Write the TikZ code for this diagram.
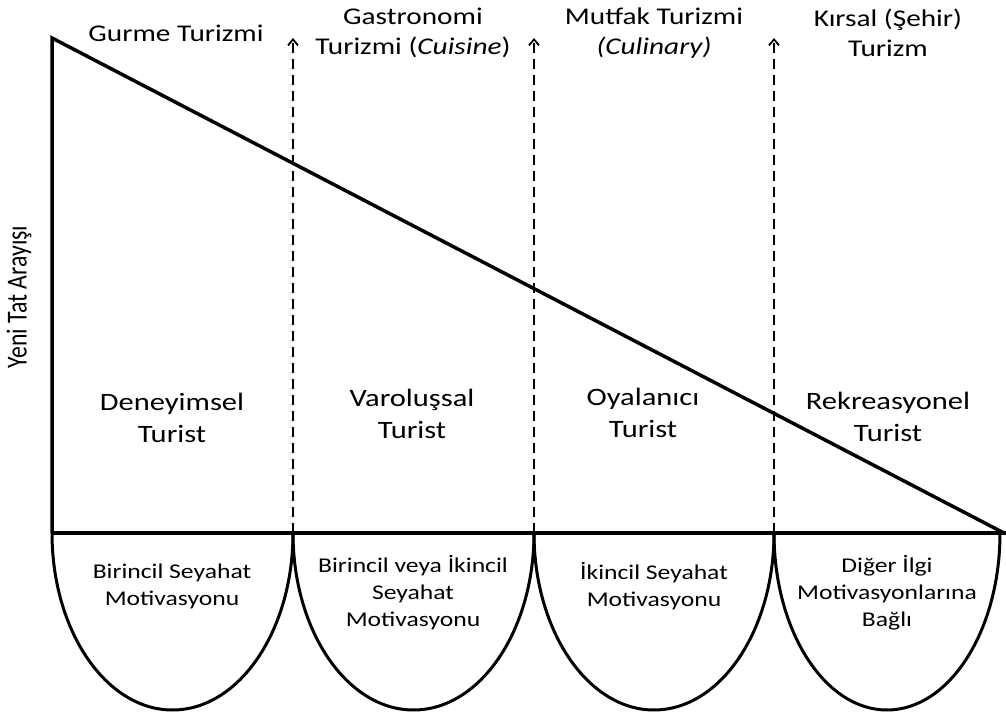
\documentclass[tikz,border=0pt]{standalone}
\usepackage{fontspec}
\setmainfont[FakeStretch=1.22]{Carlito}
\newfontfamily\axisfont[FakeStretch=0.82]{Carlito}
\usetikzlibrary{arrows.meta}
\tikzset{
  edge/.style={line width=3.5pt},
  divider/.style={line width=1.8pt, dash pattern=on 10pt off 6pt,
                  -{Straight Barb[length=6pt, width=10pt]}},
  bowl/.style={line width=3pt},
  toplabel/.style={font=\fontsize{24}{30}\selectfont, align=center, inner sep=0pt},
  typelabel/.style={font=\fontsize{25}{32}\selectfont, align=center, inner sep=0pt},
  bowllabel/.style={font=\fontsize{21}{27}\selectfont, align=center, inner sep=0pt},
  axislabel/.style={font=\axisfont\fontsize{29}{34}\selectfont, rotate=90, inner sep=0pt},
}

\begin{document}
\begin{tikzpicture}[x=1pt, y=1pt]
    \useasboundingbox (0,0) rectangle (1006,715);
    % triangle
    \coordinate (apex) at (52,677);
    \coordinate (corner) at (52,182);
    \coordinate (tip) at (1004,182);
    \coordinate (baseend) at (1006,182);
    \draw[edge] (corner) -- (apex) -- (tip);
    \draw[edge] (corner) -- (baseend);
    % dashed dividers
    \coordinate (d1b) at (293,182);
    \coordinate (d1t) at (293,677);
    \coordinate (d2b) at (534,182);
    \coordinate (d2t) at (534,677);
    \coordinate (d3b) at (774,182);
    \coordinate (d3t) at (774,677);
    \draw[divider] (d1b) -- (d1t);
    \draw[divider] (d2b) -- (d2t);
    \draw[divider] (d3b) -- (d3t);
    % bowls under the base line
    \draw[bowl] (corner) arc[start angle=180, end angle=360, x radius=120.5, y radius=177];
    \draw[bowl] (d1b) arc[start angle=180, end angle=360, x radius=120.5, y radius=177];
    \draw[bowl] (d2b) arc[start angle=180, end angle=360, x radius=120, y radius=177];
    \draw[bowl] (d3b) arc[start angle=180, end angle=360, x radius=113, y radius=177];
    % top labels
    \node[toplabel] (t0) at (176,682) {Gurme Turizmi};
    \node[toplabel] (t1) at (413,682) {Gastronomi\\Turizmi (\textit{Cuisine})};
    \node[toplabel] (t2) at (654,682) {Mutfak Turizmi\\\textit{(Culinary)}};
    \node[toplabel] (t3) at (888,682) {Kırsal (Şehir)\\Turizm};
    % tourist types
    \node[typelabel] (m0) at (172,297) {Deneyimsel\\Turist};
    \node[typelabel] (m1) at (412,301) {Varoluşsal\\Turist};
    \node[typelabel] (m2) at (643,302) {Oyalanıcı\\Turist};
    \node[typelabel] (m3) at (888,298) {Rekreasyonel\\Turist};
    % motivations
    \node[bowllabel] (b0) at (172,129) {Birincil Seyahat\\Motivasyonu};
    \node[bowllabel] (b1) at (413,122) {Birincil veya İkincil\\Seyahat\\Motivasyonu};
    \node[bowllabel] (b2) at (654,129) {İkincil Seyahat\\Motivasyonu};
    \node[bowllabel] (b3) at (887,122) {Diğer İlgi\\Motivasyonlarına\\Bağlı};
    % axis
    \node[axislabel] (yaxis) at (19,418) {Yeni Tat Arayışı};
\end{tikzpicture}
\end{document}
